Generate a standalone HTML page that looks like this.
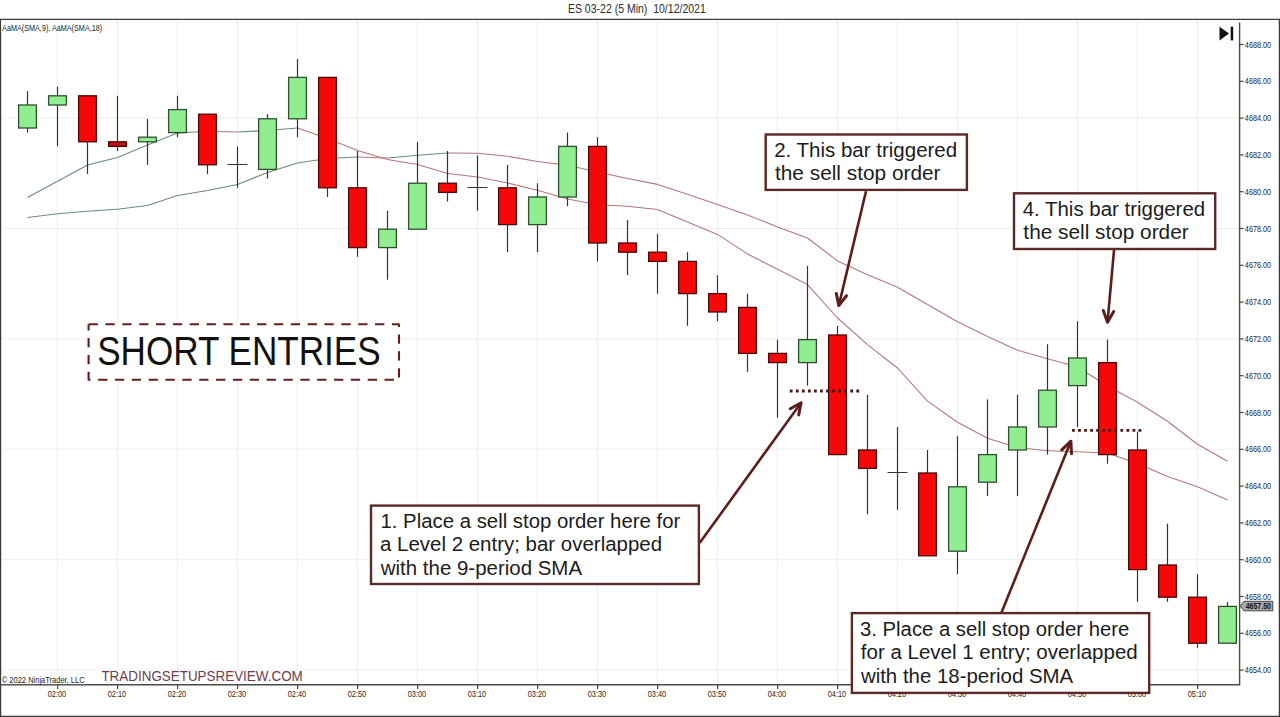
<!DOCTYPE html>
<html><head><meta charset="utf-8"><style>
html,body{margin:0;padding:0;background:#fff;width:1280px;height:717px;overflow:hidden}
svg{display:block}
text{font-family:"Liberation Sans",sans-serif}
</style></head><body>
<svg width="1280" height="717" viewBox="0 0 1280 717">
<rect x="0" y="0" width="1280" height="717" fill="#fff"/>

<path d="M57.5 20V685 M117.5 20V685 M177.5 20V685 M237.5 20V685 M297.5 20V685 M357.5 20V685 M417.5 20V685 M477.5 20V685 M537.5 20V685 M597.5 20V685 M657.5 20V685 M717.5 20V685 M777.5 20V685 M837.5 20V685 M897.5 20V685 M957.5 20V685 M1017.5 20V685 M1077.5 20V685 M1137.5 20V685 M1197.5 20V685 M3 118.1H1239 M3 228.5H1239 M3 338.9H1239 M3 449.3H1239 M3 559.7H1239 M3 670.1H1239" stroke="#eeeeee" stroke-width="1" fill="none"/>
<line x1="27.5" y1="197.5" x2="57.5" y2="181.25" stroke="#6a8d76" stroke-width="1.1"/><line x1="57.5" y1="181.25" x2="87.5" y2="165" stroke="#6a8d76" stroke-width="1.1"/><line x1="87.5" y1="165" x2="117.5" y2="157.5" stroke="#6a8d76" stroke-width="1.1"/><line x1="117.5" y1="157.5" x2="147.5" y2="145" stroke="#6a8d76" stroke-width="1.1"/><line x1="147.5" y1="145" x2="177.5" y2="133" stroke="#6a8d76" stroke-width="1.1"/><line x1="177.5" y1="133" x2="207.5" y2="131.25" stroke="#6a8d76" stroke-width="1.1"/><line x1="207.5" y1="131.25" x2="237.5" y2="132" stroke="#b07878" stroke-width="1.1"/><line x1="237.5" y1="132" x2="267.5" y2="130.5" stroke="#6a8d76" stroke-width="1.1"/><line x1="267.5" y1="130.5" x2="297.5" y2="128" stroke="#6a8d76" stroke-width="1.1"/><line x1="297.5" y1="128" x2="327.5" y2="138.5" stroke="#b07878" stroke-width="1.1"/><line x1="327.5" y1="138.5" x2="357.5" y2="150.5" stroke="#b07878" stroke-width="1.1"/><line x1="357.5" y1="150.5" x2="387.5" y2="159.5" stroke="#b07878" stroke-width="1.1"/><line x1="387.5" y1="159.5" x2="417.5" y2="164.5" stroke="#b07878" stroke-width="1.1"/><line x1="417.5" y1="164.5" x2="447.5" y2="173.5" stroke="#b07878" stroke-width="1.1"/><line x1="447.5" y1="173.5" x2="477.5" y2="177" stroke="#b07878" stroke-width="1.1"/><line x1="477.5" y1="177" x2="507.5" y2="183" stroke="#b07878" stroke-width="1.1"/><line x1="507.5" y1="183" x2="537.5" y2="190.3" stroke="#b07878" stroke-width="1.1"/><line x1="537.5" y1="190.3" x2="567.5" y2="199" stroke="#b07878" stroke-width="1.1"/><line x1="567.5" y1="199" x2="597.5" y2="204.7" stroke="#b07878" stroke-width="1.1"/><line x1="597.5" y1="204.7" x2="627.5" y2="206.2" stroke="#b07878" stroke-width="1.1"/><line x1="627.5" y1="206.2" x2="657.5" y2="209.5" stroke="#b07878" stroke-width="1.1"/><line x1="657.5" y1="209.5" x2="687.5" y2="222" stroke="#b07878" stroke-width="1.1"/><line x1="687.5" y1="222" x2="717.5" y2="234.4" stroke="#b07878" stroke-width="1.1"/><line x1="717.5" y1="234.4" x2="747.5" y2="253.9" stroke="#b07878" stroke-width="1.1"/><line x1="747.5" y1="253.9" x2="777.5" y2="269.3" stroke="#b07878" stroke-width="1.1"/><line x1="777.5" y1="269.3" x2="807.5" y2="284.6" stroke="#b07878" stroke-width="1.1"/><line x1="807.5" y1="284.6" x2="837.5" y2="318" stroke="#b07878" stroke-width="1.1"/><line x1="837.5" y1="318" x2="867.5" y2="344.6" stroke="#b07878" stroke-width="1.1"/><line x1="867.5" y1="344.6" x2="897.5" y2="368" stroke="#b07878" stroke-width="1.1"/><line x1="897.5" y1="368" x2="927.5" y2="401.1" stroke="#b07878" stroke-width="1.1"/><line x1="927.5" y1="401.1" x2="957.5" y2="422.3" stroke="#b07878" stroke-width="1.1"/><line x1="957.5" y1="422.3" x2="987.5" y2="438.2" stroke="#b07878" stroke-width="1.1"/><line x1="987.5" y1="438.2" x2="1017.5" y2="447.5" stroke="#b07878" stroke-width="1.1"/><line x1="1017.5" y1="447.5" x2="1047.5" y2="450.7" stroke="#b07878" stroke-width="1.1"/><line x1="1047.5" y1="450.7" x2="1077.5" y2="451.8" stroke="#b07878" stroke-width="1.1"/><line x1="1077.5" y1="451.8" x2="1107.5" y2="453" stroke="#b07878" stroke-width="1.1"/><line x1="1107.5" y1="453" x2="1137.5" y2="463.6" stroke="#b07878" stroke-width="1.1"/><line x1="1137.5" y1="463.6" x2="1167.5" y2="476.4" stroke="#b07878" stroke-width="1.1"/><line x1="1167.5" y1="476.4" x2="1197.5" y2="486.8" stroke="#b07878" stroke-width="1.1"/><line x1="1197.5" y1="486.8" x2="1227.5" y2="499.9" stroke="#b07878" stroke-width="1.1"/>
<line x1="27.5" y1="217.5" x2="57.5" y2="213.75" stroke="#6a8d76" stroke-width="1.1"/><line x1="57.5" y1="213.75" x2="87.5" y2="211.25" stroke="#6a8d76" stroke-width="1.1"/><line x1="87.5" y1="211.25" x2="117.5" y2="209.25" stroke="#6a8d76" stroke-width="1.1"/><line x1="117.5" y1="209.25" x2="147.5" y2="205.5" stroke="#6a8d76" stroke-width="1.1"/><line x1="147.5" y1="205.5" x2="177.5" y2="195.5" stroke="#6a8d76" stroke-width="1.1"/><line x1="177.5" y1="195.5" x2="207.5" y2="190.5" stroke="#6a8d76" stroke-width="1.1"/><line x1="207.5" y1="190.5" x2="237.5" y2="184.5" stroke="#6a8d76" stroke-width="1.1"/><line x1="237.5" y1="184.5" x2="267.5" y2="172.5" stroke="#6a8d76" stroke-width="1.1"/><line x1="267.5" y1="172.5" x2="297.5" y2="163" stroke="#6a8d76" stroke-width="1.1"/><line x1="297.5" y1="163" x2="327.5" y2="158.5" stroke="#6a8d76" stroke-width="1.1"/><line x1="327.5" y1="158.5" x2="357.5" y2="157" stroke="#6a8d76" stroke-width="1.1"/><line x1="357.5" y1="157" x2="387.5" y2="158" stroke="#b07878" stroke-width="1.1"/><line x1="387.5" y1="158" x2="417.5" y2="155.3" stroke="#6a8d76" stroke-width="1.1"/><line x1="417.5" y1="155.3" x2="447.5" y2="153" stroke="#6a8d76" stroke-width="1.1"/><line x1="447.5" y1="153" x2="477.5" y2="153.25" stroke="#b07878" stroke-width="1.1"/><line x1="477.5" y1="153.25" x2="507.5" y2="156.3" stroke="#b07878" stroke-width="1.1"/><line x1="507.5" y1="156.3" x2="537.5" y2="161.5" stroke="#b07878" stroke-width="1.1"/><line x1="537.5" y1="161.5" x2="567.5" y2="165.2" stroke="#b07878" stroke-width="1.1"/><line x1="567.5" y1="165.2" x2="597.5" y2="172" stroke="#b07878" stroke-width="1.1"/><line x1="597.5" y1="172" x2="627.5" y2="178.5" stroke="#b07878" stroke-width="1.1"/><line x1="627.5" y1="178.5" x2="657.5" y2="184.4" stroke="#b07878" stroke-width="1.1"/><line x1="657.5" y1="184.4" x2="687.5" y2="194.2" stroke="#b07878" stroke-width="1.1"/><line x1="687.5" y1="194.2" x2="717.5" y2="204.5" stroke="#b07878" stroke-width="1.1"/><line x1="717.5" y1="204.5" x2="747.5" y2="214.9" stroke="#b07878" stroke-width="1.1"/><line x1="747.5" y1="214.9" x2="777.5" y2="226.9" stroke="#b07878" stroke-width="1.1"/><line x1="777.5" y1="226.9" x2="807.5" y2="238" stroke="#b07878" stroke-width="1.1"/><line x1="807.5" y1="238" x2="837.5" y2="260.9" stroke="#b07878" stroke-width="1.1"/><line x1="837.5" y1="260.9" x2="867.5" y2="274.8" stroke="#b07878" stroke-width="1.1"/><line x1="867.5" y1="274.8" x2="897.5" y2="287.2" stroke="#b07878" stroke-width="1.1"/><line x1="897.5" y1="287.2" x2="927.5" y2="304.4" stroke="#b07878" stroke-width="1.1"/><line x1="927.5" y1="304.4" x2="957.5" y2="321.7" stroke="#b07878" stroke-width="1.1"/><line x1="957.5" y1="321.7" x2="987.5" y2="336.5" stroke="#b07878" stroke-width="1.1"/><line x1="987.5" y1="336.5" x2="1017.5" y2="350.3" stroke="#b07878" stroke-width="1.1"/><line x1="1017.5" y1="350.3" x2="1047.5" y2="358.7" stroke="#b07878" stroke-width="1.1"/><line x1="1047.5" y1="358.7" x2="1077.5" y2="367" stroke="#b07878" stroke-width="1.1"/><line x1="1077.5" y1="367" x2="1107.5" y2="386" stroke="#b07878" stroke-width="1.1"/><line x1="1107.5" y1="386" x2="1137.5" y2="402.2" stroke="#b07878" stroke-width="1.1"/><line x1="1137.5" y1="402.2" x2="1167.5" y2="421.2" stroke="#b07878" stroke-width="1.1"/><line x1="1167.5" y1="421.2" x2="1197.5" y2="444.2" stroke="#b07878" stroke-width="1.1"/><line x1="1197.5" y1="444.2" x2="1227.5" y2="461.2" stroke="#b07878" stroke-width="1.1"/>
<path d="M27.5 91.2V132.6" stroke="#333" stroke-width="1.2"/><rect x="18.6" y="105.0" width="17.8" height="23.0" fill="#90ee90" stroke="#2f4f2f" stroke-width="1.3"/><path d="M57.5 86.6V146.4" stroke="#333" stroke-width="1.2"/><rect x="48.6" y="95.8" width="17.8" height="9.2" fill="#90ee90" stroke="#2f4f2f" stroke-width="1.3"/><path d="M87.5 95.8V174.0" stroke="#333" stroke-width="1.2"/><rect x="78.6" y="95.8" width="17.8" height="46.0" fill="#f60808" stroke="#4a0808" stroke-width="1.3"/><path d="M117.5 95.8V151.0" stroke="#333" stroke-width="1.2"/><rect x="108.6" y="141.8" width="17.8" height="4.6" fill="#c01212" stroke="#4a0808" stroke-width="1.3"/><path d="M147.5 118.8V164.8" stroke="#333" stroke-width="1.2"/><rect x="138.6" y="137.2" width="17.8" height="4.6" fill="#90ee90" stroke="#2f4f2f" stroke-width="1.3"/><path d="M177.5 95.8V137.2" stroke="#333" stroke-width="1.2"/><rect x="168.6" y="109.6" width="17.8" height="23.0" fill="#90ee90" stroke="#2f4f2f" stroke-width="1.3"/><path d="M207.5 114.2V174.0" stroke="#333" stroke-width="1.2"/><rect x="198.6" y="114.2" width="17.8" height="50.6" fill="#f60808" stroke="#4a0808" stroke-width="1.3"/><path d="M237.5 146.4V187.8M227.5 164.5H247.5" stroke="#333" stroke-width="1.2"/><path d="M267.5 114.2V178.6" stroke="#333" stroke-width="1.2"/><rect x="258.6" y="118.8" width="17.8" height="50.6" fill="#90ee90" stroke="#2f4f2f" stroke-width="1.3"/><path d="M297.5 59.0V137.2" stroke="#333" stroke-width="1.2"/><rect x="288.6" y="77.4" width="17.8" height="41.4" fill="#90ee90" stroke="#2f4f2f" stroke-width="1.3"/><path d="M327.5 77.4V197.0" stroke="#333" stroke-width="1.2"/><rect x="318.6" y="77.4" width="17.8" height="110.4" fill="#f60808" stroke="#4a0808" stroke-width="1.3"/><path d="M357.5 151.0V256.8" stroke="#333" stroke-width="1.2"/><rect x="348.6" y="187.8" width="17.8" height="59.8" fill="#f60808" stroke="#4a0808" stroke-width="1.3"/><path d="M387.5 210.8V279.8" stroke="#333" stroke-width="1.2"/><rect x="378.6" y="229.2" width="17.8" height="18.4" fill="#90ee90" stroke="#2f4f2f" stroke-width="1.3"/><path d="M417.5 141.8V229.2" stroke="#333" stroke-width="1.2"/><rect x="408.6" y="183.2" width="17.8" height="46.0" fill="#90ee90" stroke="#2f4f2f" stroke-width="1.3"/><path d="M447.5 151.0V201.6" stroke="#333" stroke-width="1.2"/><rect x="438.6" y="183.2" width="17.8" height="9.2" fill="#f60808" stroke="#4a0808" stroke-width="1.3"/><path d="M477.5 155.6V210.8M467.5 187.5H487.5" stroke="#333" stroke-width="1.2"/><path d="M507.5 164.8V252.2" stroke="#333" stroke-width="1.2"/><rect x="498.6" y="187.8" width="17.8" height="36.8" fill="#f60808" stroke="#4a0808" stroke-width="1.3"/><path d="M537.5 183.2V252.2" stroke="#333" stroke-width="1.2"/><rect x="528.6" y="197.0" width="17.8" height="27.6" fill="#90ee90" stroke="#2f4f2f" stroke-width="1.3"/><path d="M567.5 132.6V206.2" stroke="#333" stroke-width="1.2"/><rect x="558.6" y="146.4" width="17.8" height="50.6" fill="#90ee90" stroke="#2f4f2f" stroke-width="1.3"/><path d="M597.5 137.2V261.4" stroke="#333" stroke-width="1.2"/><rect x="588.6" y="146.4" width="17.8" height="96.6" fill="#f60808" stroke="#4a0808" stroke-width="1.3"/><path d="M627.5 220.0V275.2" stroke="#333" stroke-width="1.2"/><rect x="618.6" y="243.0" width="17.8" height="9.2" fill="#f60808" stroke="#4a0808" stroke-width="1.3"/><path d="M657.5 233.8V293.6" stroke="#333" stroke-width="1.2"/><rect x="648.6" y="252.2" width="17.8" height="9.2" fill="#f60808" stroke="#4a0808" stroke-width="1.3"/><path d="M687.5 252.2V325.8" stroke="#333" stroke-width="1.2"/><rect x="678.6" y="261.4" width="17.8" height="32.2" fill="#f60808" stroke="#4a0808" stroke-width="1.3"/><path d="M717.5 275.2V321.2" stroke="#333" stroke-width="1.2"/><rect x="708.6" y="293.6" width="17.8" height="18.4" fill="#f60808" stroke="#4a0808" stroke-width="1.3"/><path d="M747.5 293.6V371.8" stroke="#333" stroke-width="1.2"/><rect x="738.6" y="307.4" width="17.8" height="46.0" fill="#f60808" stroke="#4a0808" stroke-width="1.3"/><path d="M777.5 339.6V417.8" stroke="#333" stroke-width="1.2"/><rect x="768.6" y="353.4" width="17.8" height="9.2" fill="#f60808" stroke="#4a0808" stroke-width="1.3"/><path d="M807.5 266.0V385.6" stroke="#333" stroke-width="1.2"/><rect x="798.6" y="339.6" width="17.8" height="23.0" fill="#90ee90" stroke="#2f4f2f" stroke-width="1.3"/><path d="M837.5 325.8V454.6" stroke="#333" stroke-width="1.2"/><rect x="828.6" y="335.0" width="17.8" height="119.6" fill="#f60808" stroke="#4a0808" stroke-width="1.3"/><path d="M867.5 394.8V514.4" stroke="#333" stroke-width="1.2"/><rect x="858.6" y="450.0" width="17.8" height="18.4" fill="#f60808" stroke="#4a0808" stroke-width="1.3"/><path d="M897.5 427.0V509.8M887.5 472.5H907.5" stroke="#333" stroke-width="1.2"/><path d="M927.5 450.0V555.8" stroke="#333" stroke-width="1.2"/><rect x="918.6" y="473.0" width="17.8" height="82.8" fill="#f60808" stroke="#4a0808" stroke-width="1.3"/><path d="M957.5 436.2V574.2" stroke="#333" stroke-width="1.2"/><rect x="948.6" y="486.8" width="17.8" height="64.4" fill="#90ee90" stroke="#2f4f2f" stroke-width="1.3"/><path d="M987.5 399.4V496.0" stroke="#333" stroke-width="1.2"/><rect x="978.6" y="454.6" width="17.8" height="27.6" fill="#90ee90" stroke="#2f4f2f" stroke-width="1.3"/><path d="M1017.5 394.8V496.0" stroke="#333" stroke-width="1.2"/><rect x="1008.6" y="427.0" width="17.8" height="23.0" fill="#90ee90" stroke="#2f4f2f" stroke-width="1.3"/><path d="M1047.5 344.2V454.6" stroke="#333" stroke-width="1.2"/><rect x="1038.6" y="390.2" width="17.8" height="36.8" fill="#90ee90" stroke="#2f4f2f" stroke-width="1.3"/><path d="M1077.5 321.2V427.0" stroke="#333" stroke-width="1.2"/><rect x="1068.6" y="358.0" width="17.8" height="27.6" fill="#90ee90" stroke="#2f4f2f" stroke-width="1.3"/><path d="M1107.5 339.6V463.8" stroke="#333" stroke-width="1.2"/><rect x="1098.6" y="362.6" width="17.8" height="92.0" fill="#f60808" stroke="#4a0808" stroke-width="1.3"/><path d="M1137.5 431.6V601.8" stroke="#333" stroke-width="1.2"/><rect x="1128.6" y="450.0" width="17.8" height="119.6" fill="#f60808" stroke="#4a0808" stroke-width="1.3"/><path d="M1167.5 523.6V601.8" stroke="#333" stroke-width="1.2"/><rect x="1158.6" y="565.0" width="17.8" height="32.2" fill="#f60808" stroke="#4a0808" stroke-width="1.3"/><path d="M1197.5 574.2V647.8" stroke="#333" stroke-width="1.2"/><rect x="1188.6" y="597.2" width="17.8" height="46.0" fill="#f60808" stroke="#4a0808" stroke-width="1.3"/><path d="M1227.5 601.8V643.2" stroke="#333" stroke-width="1.2"/><rect x="1218.6" y="606.4" width="17.8" height="36.8" fill="#90ee90" stroke="#2f4f2f" stroke-width="1.3"/>
<path d="M0.6 19.4H1279.4V716.4H0.6Z" fill="none" stroke="#3c3c3c" stroke-width="1.3"/>
<path d="M1239.6 22.6V684.8H0" fill="none" stroke="#4a4a4a" stroke-width="1.4"/>
<path d="M1239.6 44.5H1243.6" stroke="#444" stroke-width="1.2"/>
<text x="1244.85" y="47.60" font-size="8.4" fill="#262626" textLength="26.31" lengthAdjust="spacingAndGlyphs" style="white-space:pre">4688.00</text>
<path d="M1239.6 81.3H1243.6" stroke="#444" stroke-width="1.2"/>
<text x="1244.85" y="84.40" font-size="8.4" fill="#262626" textLength="26.31" lengthAdjust="spacingAndGlyphs" style="white-space:pre">4686.00</text>
<path d="M1239.6 118.1H1243.6" stroke="#444" stroke-width="1.2"/>
<text x="1244.85" y="121.20" font-size="8.4" fill="#262626" textLength="26.31" lengthAdjust="spacingAndGlyphs" style="white-space:pre">4684.00</text>
<path d="M1239.6 154.9H1243.6" stroke="#444" stroke-width="1.2"/>
<text x="1244.85" y="158.00" font-size="8.4" fill="#262626" textLength="26.31" lengthAdjust="spacingAndGlyphs" style="white-space:pre">4682.00</text>
<path d="M1239.6 191.7H1243.6" stroke="#444" stroke-width="1.2"/>
<text x="1244.85" y="194.80" font-size="8.4" fill="#262626" textLength="26.31" lengthAdjust="spacingAndGlyphs" style="white-space:pre">4680.00</text>
<path d="M1239.6 228.5H1243.6" stroke="#444" stroke-width="1.2"/>
<text x="1244.85" y="231.60" font-size="8.4" fill="#262626" textLength="26.31" lengthAdjust="spacingAndGlyphs" style="white-space:pre">4678.00</text>
<path d="M1239.6 265.3H1243.6" stroke="#444" stroke-width="1.2"/>
<text x="1244.85" y="268.40" font-size="8.4" fill="#262626" textLength="26.31" lengthAdjust="spacingAndGlyphs" style="white-space:pre">4676.00</text>
<path d="M1239.6 302.1H1243.6" stroke="#444" stroke-width="1.2"/>
<text x="1244.85" y="305.20" font-size="8.4" fill="#262626" textLength="26.31" lengthAdjust="spacingAndGlyphs" style="white-space:pre">4674.00</text>
<path d="M1239.6 338.9H1243.6" stroke="#444" stroke-width="1.2"/>
<text x="1244.85" y="342.00" font-size="8.4" fill="#262626" textLength="26.31" lengthAdjust="spacingAndGlyphs" style="white-space:pre">4672.00</text>
<path d="M1239.6 375.7H1243.6" stroke="#444" stroke-width="1.2"/>
<text x="1244.85" y="378.80" font-size="8.4" fill="#262626" textLength="26.31" lengthAdjust="spacingAndGlyphs" style="white-space:pre">4670.00</text>
<path d="M1239.6 412.5H1243.6" stroke="#444" stroke-width="1.2"/>
<text x="1244.85" y="415.60" font-size="8.4" fill="#262626" textLength="26.31" lengthAdjust="spacingAndGlyphs" style="white-space:pre">4668.00</text>
<path d="M1239.6 449.3H1243.6" stroke="#444" stroke-width="1.2"/>
<text x="1244.85" y="452.40" font-size="8.4" fill="#262626" textLength="26.31" lengthAdjust="spacingAndGlyphs" style="white-space:pre">4666.00</text>
<path d="M1239.6 486.1H1243.6" stroke="#444" stroke-width="1.2"/>
<text x="1244.85" y="489.20" font-size="8.4" fill="#262626" textLength="26.31" lengthAdjust="spacingAndGlyphs" style="white-space:pre">4664.00</text>
<path d="M1239.6 522.9H1243.6" stroke="#444" stroke-width="1.2"/>
<text x="1244.85" y="526.00" font-size="8.4" fill="#262626" textLength="26.31" lengthAdjust="spacingAndGlyphs" style="white-space:pre">4662.00</text>
<path d="M1239.6 559.7H1243.6" stroke="#444" stroke-width="1.2"/>
<text x="1244.85" y="562.80" font-size="8.4" fill="#262626" textLength="26.31" lengthAdjust="spacingAndGlyphs" style="white-space:pre">4660.00</text>
<path d="M1239.6 596.5H1243.6" stroke="#444" stroke-width="1.2"/>
<text x="1244.85" y="599.60" font-size="8.4" fill="#262626" textLength="26.31" lengthAdjust="spacingAndGlyphs" style="white-space:pre">4658.00</text>
<path d="M1239.6 633.3H1243.6" stroke="#444" stroke-width="1.2"/>
<text x="1244.85" y="636.40" font-size="8.4" fill="#262626" textLength="26.31" lengthAdjust="spacingAndGlyphs" style="white-space:pre">4656.00</text>
<path d="M1239.6 670.1H1243.6" stroke="#444" stroke-width="1.2"/>
<text x="1244.85" y="673.20" font-size="8.4" fill="#262626" textLength="26.31" lengthAdjust="spacingAndGlyphs" style="white-space:pre">4654.00</text>
<path d="M57.6 685V689" stroke="#444" stroke-width="1.2"/>
<text x="47.78" y="696.80" font-size="8.8" fill="#262626" textLength="18.39" lengthAdjust="spacingAndGlyphs" style="white-space:pre">02:00</text>
<path d="M117.6 685V689" stroke="#444" stroke-width="1.2"/>
<text x="107.78" y="696.80" font-size="8.8" fill="#262626" textLength="18.39" lengthAdjust="spacingAndGlyphs" style="white-space:pre">02:10</text>
<path d="M177.6 685V689" stroke="#444" stroke-width="1.2"/>
<text x="167.78" y="696.80" font-size="8.8" fill="#262626" textLength="18.39" lengthAdjust="spacingAndGlyphs" style="white-space:pre">02:20</text>
<path d="M237.6 685V689" stroke="#444" stroke-width="1.2"/>
<text x="227.78" y="696.80" font-size="8.8" fill="#262626" textLength="18.39" lengthAdjust="spacingAndGlyphs" style="white-space:pre">02:30</text>
<path d="M297.6 685V689" stroke="#444" stroke-width="1.2"/>
<text x="287.78" y="696.80" font-size="8.8" fill="#262626" textLength="18.39" lengthAdjust="spacingAndGlyphs" style="white-space:pre">02:40</text>
<path d="M357.6 685V689" stroke="#444" stroke-width="1.2"/>
<text x="347.78" y="696.80" font-size="8.8" fill="#262626" textLength="18.39" lengthAdjust="spacingAndGlyphs" style="white-space:pre">02:50</text>
<path d="M417.6 685V689" stroke="#444" stroke-width="1.2"/>
<text x="407.78" y="696.80" font-size="8.8" fill="#262626" textLength="18.39" lengthAdjust="spacingAndGlyphs" style="white-space:pre">03:00</text>
<path d="M477.6 685V689" stroke="#444" stroke-width="1.2"/>
<text x="467.78" y="696.80" font-size="8.8" fill="#262626" textLength="18.39" lengthAdjust="spacingAndGlyphs" style="white-space:pre">03:10</text>
<path d="M537.6 685V689" stroke="#444" stroke-width="1.2"/>
<text x="527.78" y="696.80" font-size="8.8" fill="#262626" textLength="18.39" lengthAdjust="spacingAndGlyphs" style="white-space:pre">03:20</text>
<path d="M597.6 685V689" stroke="#444" stroke-width="1.2"/>
<text x="587.78" y="696.80" font-size="8.8" fill="#262626" textLength="18.39" lengthAdjust="spacingAndGlyphs" style="white-space:pre">03:30</text>
<path d="M657.6 685V689" stroke="#444" stroke-width="1.2"/>
<text x="647.78" y="696.80" font-size="8.8" fill="#262626" textLength="18.39" lengthAdjust="spacingAndGlyphs" style="white-space:pre">03:40</text>
<path d="M717.6 685V689" stroke="#444" stroke-width="1.2"/>
<text x="707.78" y="696.80" font-size="8.8" fill="#262626" textLength="18.39" lengthAdjust="spacingAndGlyphs" style="white-space:pre">03:50</text>
<path d="M777.6 685V689" stroke="#444" stroke-width="1.2"/>
<text x="767.78" y="696.80" font-size="8.8" fill="#262626" textLength="18.39" lengthAdjust="spacingAndGlyphs" style="white-space:pre">04:00</text>
<path d="M837.6 685V689" stroke="#444" stroke-width="1.2"/>
<text x="827.78" y="696.80" font-size="8.8" fill="#262626" textLength="18.39" lengthAdjust="spacingAndGlyphs" style="white-space:pre">04:10</text>
<path d="M897.6 685V689" stroke="#444" stroke-width="1.2"/>
<text x="887.78" y="696.80" font-size="8.8" fill="#262626" textLength="18.39" lengthAdjust="spacingAndGlyphs" style="white-space:pre">04:20</text>
<path d="M957.6 685V689" stroke="#444" stroke-width="1.2"/>
<text x="947.78" y="696.80" font-size="8.8" fill="#262626" textLength="18.39" lengthAdjust="spacingAndGlyphs" style="white-space:pre">04:30</text>
<path d="M1017.6 685V689" stroke="#444" stroke-width="1.2"/>
<text x="1007.78" y="696.80" font-size="8.8" fill="#262626" textLength="18.39" lengthAdjust="spacingAndGlyphs" style="white-space:pre">04:40</text>
<path d="M1077.6 685V689" stroke="#444" stroke-width="1.2"/>
<text x="1067.78" y="696.80" font-size="8.8" fill="#262626" textLength="18.39" lengthAdjust="spacingAndGlyphs" style="white-space:pre">04:50</text>
<path d="M1137.6 685V689" stroke="#444" stroke-width="1.2"/>
<text x="1127.78" y="696.80" font-size="8.8" fill="#262626" textLength="18.39" lengthAdjust="spacingAndGlyphs" style="white-space:pre">05:00</text>
<path d="M1197.6 685V689" stroke="#444" stroke-width="1.2"/>
<text x="1187.78" y="696.80" font-size="8.8" fill="#262626" textLength="18.39" lengthAdjust="spacingAndGlyphs" style="white-space:pre">05:10</text>
<text x="567.91" y="13.40" font-size="12.6" fill="#2a2a2a" textLength="137.88" lengthAdjust="spacingAndGlyphs" style="white-space:pre">ES 03-22 (5 Min)  10/12/2021</text>
<rect x="1.3" y="20.2" width="102" height="12" fill="#fff"/>
<text x="2.10" y="30.70" font-size="8.8" fill="#222" textLength="100.08" lengthAdjust="spacingAndGlyphs" style="white-space:pre">AaMA(SMA,9), AaMA(SMA,18)</text>
<rect x="1.3" y="675.5" width="85" height="8.6" fill="#fff"/>
<text x="1.72" y="683.00" font-size="8.6" fill="#222" textLength="82.92" lengthAdjust="spacingAndGlyphs" style="white-space:pre">© 2022 NinjaTrader, LLC</text>
<path d="M1219.5 26.7L1229 33.5L1219.5 40.4Z" fill="#111"/><rect x="1230.7" y="26.7" width="2.5" height="13.7" fill="#111"/>
<path d="M1240.2 605.8L1244 601.3H1272.8V610.8H1244Z" fill="#a9a9a9" stroke="#444" stroke-width="1"/>
<text x="1245.66" y="608.90" font-size="8.4" fill="#111" textLength="25.29" lengthAdjust="spacingAndGlyphs" style="white-space:pre" font-weight="bold">4657.50</text>
<rect x="100" y="671" width="204" height="13" fill="#fff"/>
<text x="101.43" y="680.60" font-size="15.2" fill="#70404a" textLength="201.35" lengthAdjust="spacingAndGlyphs" style="white-space:pre">TRADINGSETUPSREVIEW.COM</text>
<rect x="88.6" y="324.3" width="310.4" height="55.5" fill="#fff"/>
<g stroke="#62201f" stroke-width="2.1" fill="none" stroke-dasharray="9.3 7.55"><path d="M88.6 324.3H399.6"/><path d="M399 324.3V380.5" stroke-dashoffset="6.7"/><path d="M88.6 324.3V380.5" stroke-dashoffset="3.1"/><path d="M88.6 379.8H400" stroke-dashoffset="7.35"/></g>
<text x="97.20" y="364.90" font-size="40.6" fill="#111" textLength="283.50" lengthAdjust="spacingAndGlyphs" style="white-space:pre">SHORT ENTRIES</text>
<path d="M789.8 391H861" stroke="#4a1818" stroke-width="2.8" stroke-dasharray="2.8 3.25"/>
<path d="M1072 430.4H1142" stroke="#4a1818" stroke-width="2.8" stroke-dasharray="2.8 3.25"/>
<path d="M699.6 543.1L801.1 402.7" stroke="#5a1e1c" stroke-width="2.6" fill="none"/><path d="M798.7 414.9L801.1 402.7L790.2 408.8" stroke="#5a1e1c" stroke-width="3" fill="none" stroke-linecap="round" stroke-linejoin="round"/>
<path d="M866 191.3L838.8 305.6" stroke="#5a1e1c" stroke-width="2.6" fill="none"/><path d="M836.3 293.4L838.8 305.6L846.5 295.8" stroke="#5a1e1c" stroke-width="3" fill="none" stroke-linecap="round" stroke-linejoin="round"/>
<path d="M1001.3 612.9L1070.9 441.2" stroke="#5a1e1c" stroke-width="2.6" fill="none"/><path d="M1071.5 453.7L1070.9 441.2L1061.8 449.8" stroke="#5a1e1c" stroke-width="3" fill="none" stroke-linecap="round" stroke-linejoin="round"/>
<path d="M1114.1 249.4L1107.5 322.3" stroke="#5a1e1c" stroke-width="2.6" fill="none"/><path d="M1103.3 310.5L1107.5 322.3L1113.7 311.5" stroke="#5a1e1c" stroke-width="3" fill="none" stroke-linecap="round" stroke-linejoin="round"/>
<rect x="371.0" y="505.6" width="327.9" height="78.39999999999998" fill="#fff" stroke="#5c2a26" stroke-width="2.4"/><text x="380.48" y="527.90" font-size="20" fill="#1c1c1c" textLength="299.79" lengthAdjust="spacingAndGlyphs" style="white-space:pre">1. Place a sell stop order here for</text><text x="379.98" y="551.30" font-size="20" fill="#1c1c1c" textLength="282.17" lengthAdjust="spacingAndGlyphs" style="white-space:pre">a Level 2 entry; bar overlapped</text><text x="380.80" y="574.80" font-size="20" fill="#1c1c1c" textLength="201.23" lengthAdjust="spacingAndGlyphs" style="white-space:pre">with the 9-period SMA</text>
<rect x="765.7" y="134.5" width="201.19999999999993" height="55.400000000000006" fill="#fff" stroke="#5c2a26" stroke-width="2.4"/><text x="774.18" y="157.00" font-size="20" fill="#1c1c1c" textLength="182.97" lengthAdjust="spacingAndGlyphs" style="white-space:pre">2. This bar triggered</text><text x="774.99" y="180.30" font-size="20" fill="#1c1c1c" textLength="165.58" lengthAdjust="spacingAndGlyphs" style="white-space:pre">the sell stop order</text>
<rect x="851.9" y="613.1" width="297.30000000000007" height="79.79999999999995" fill="#fff" stroke="#5c2a26" stroke-width="2.4"/><text x="860.09" y="635.70" font-size="20" fill="#1c1c1c" textLength="269.14" lengthAdjust="spacingAndGlyphs" style="white-space:pre">3. Place a sell stop order here</text><text x="860.79" y="659.00" font-size="20" fill="#1c1c1c" textLength="276.96" lengthAdjust="spacingAndGlyphs" style="white-space:pre">for a Level 1 entry; overlapped</text><text x="860.90" y="682.80" font-size="20" fill="#1c1c1c" textLength="212.33" lengthAdjust="spacingAndGlyphs" style="white-space:pre">with the 18-period SMA</text>
<rect x="1014" y="193.3" width="201.20000000000005" height="55.69999999999999" fill="#fff" stroke="#5c2a26" stroke-width="2.4"/><text x="1022.69" y="216.10" font-size="20" fill="#1c1c1c" textLength="182.45" lengthAdjust="spacingAndGlyphs" style="white-space:pre">4. This bar triggered</text><text x="1023.39" y="239.20" font-size="20" fill="#1c1c1c" textLength="165.28" lengthAdjust="spacingAndGlyphs" style="white-space:pre">the sell stop order</text>
</svg></body></html>
